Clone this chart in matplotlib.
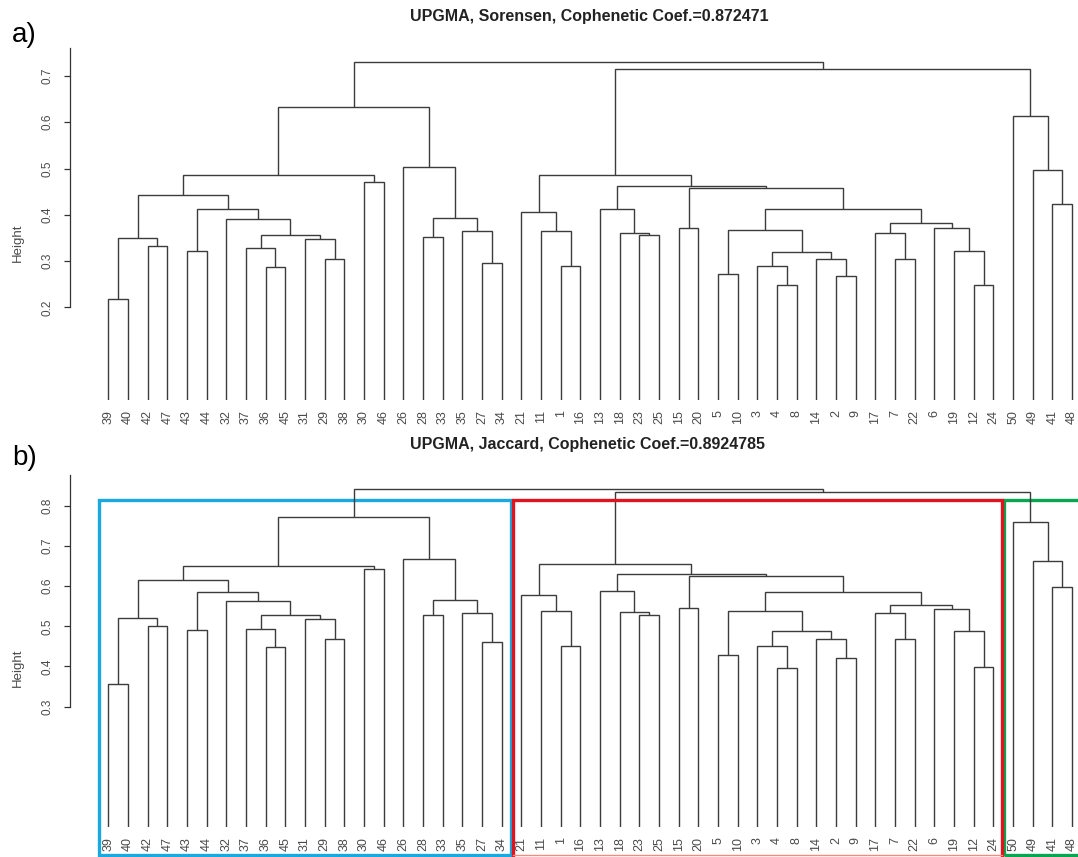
import matplotlib
matplotlib.use("Agg")
import matplotlib.pyplot as plt
from matplotlib.patches import Rectangle

plt.rcParams['font.family'] = ['Liberation Sans', 'DejaVu Sans']

leaf_order = [39, 40, 42, 47, 43, 44, 32, 37, 36, 45, 31, 29, 38, 30, 46, 26, 28, 33, 35, 27, 34,
              21, 11, 1, 16, 13, 18, 23, 25, 15, 20, 5, 10, 3, 4, 8, 14, 2, 9, 17, 7, 22, 6, 19, 12, 24,
              50, 49, 41, 48]

# hclust style merge table: negative = leaf id, positive = earlier merge step (1-based)
merge_pairs = [
    (-39, -40), (-42, -47), (1, 2), (-43, -44), (-36, -45), (-37, 5), (-29, -38), (-31, 7),
    (6, 8), (-32, 9), (4, 10), (3, 11), (-30, -46), (12, 13), (-28, -33), (-27, -34),
    (-35, 16), (15, 17), (-26, 18), (14, 19), (-1, -16), (-11, 21), (-21, 22), (-23, -25),
    (-18, 24), (-13, 25), (-15, -20), (-5, -10), (-4, -8), (-3, 29), (-2, -9), (-14, 31),
    (30, 32), (28, 33), (-7, -22), (-17, 35), (-12, -24), (-19, 37), (-6, 38), (36, 39),
    (34, 40), (27, 41), (26, 42), (23, 43), (-41, -48), (-49, 45), (-50, 46), (44, 47),
    (20, 48),
]

height_sorensen = [
    0.218, 0.333, 0.350, 0.322, 0.288, 0.328, 0.304, 0.348, 0.356, 0.390, 0.413, 0.442,
    0.470, 0.486, 0.353, 0.296, 0.364, 0.392, 0.504, 0.632, 0.290, 0.364, 0.405, 0.356,
    0.361, 0.413, 0.371, 0.271, 0.248, 0.290, 0.268, 0.304, 0.320, 0.367, 0.304, 0.361,
    0.248, 0.321, 0.371, 0.382, 0.412, 0.457, 0.462, 0.486, 0.423, 0.496, 0.613, 0.714,
    0.730,
]

height_jaccard = [
    0.356, 0.501, 0.520, 0.491, 0.449, 0.494, 0.468, 0.518, 0.527, 0.564, 0.586, 0.615,
    0.642, 0.651, 0.527, 0.461, 0.534, 0.566, 0.669, 0.772, 0.452, 0.537, 0.579, 0.527,
    0.535, 0.588, 0.545, 0.428, 0.396, 0.452, 0.422, 0.468, 0.489, 0.537, 0.468, 0.534,
    0.398, 0.488, 0.543, 0.553, 0.585, 0.625, 0.630, 0.655, 0.597, 0.664, 0.759, 0.835,
    0.842,
]

# groups boxed in panel b: first leaf, last leaf, colour
groups_b = [(39, 34, '#1aa9df'), (21, 24, '#e0141e'), (50, 48, '#0aa550')]

W, H = 1078, 857
LINE = '#3c3c3c'
TXT = '#4a4a4a'


def px_axes(left, top, right, bottom):
    return [left / W, 1 - bottom / H, (right - left) / W, (bottom - top) / H]


def draw_dendro(ax, heights):
    pos = {leaf: i for i, leaf in enumerate(leaf_order)}
    node_x, node_h = {}, {}

    def get(c):
        if c < 0:
            return pos[-c], 0.0
        return node_x[c], node_h[c]

    for k, ((a, b), h) in enumerate(zip(merge_pairs, heights), start=1):
        xa, ha = get(a)
        xb, hb = get(b)
        ax.plot([xa, xa, xb, xb], [ha, h, h, hb], color=LINE, lw=1.0,
                solid_capstyle='butt', solid_joinstyle='miter')
        node_x[k] = (xa + xb) / 2
        node_h[k] = h


def style_axes(ax, ymax, ticks, ylab_y):
    x0 = (69.6 - 108.3) / 19.67
    x1 = (W - 108.3) / 19.67
    ax.set_xlim(x0, x1)
    ax.set_ylim(0, ymax)
    for s in ['top', 'right', 'bottom']:
        ax.spines[s].set_visible(False)
    ax.spines['left'].set_bounds(ticks[0], ymax)
    ax.spines['left'].set_color('#333333')
    ax.spines['left'].set_linewidth(0.9)
    ax.set_yticks(ticks)
    ax.set_yticklabels([f'{t:.1f}' for t in ticks], rotation=90, va='center')
    ax.tick_params(axis='y', length=4.5, width=0.9, pad=7, labelsize=8.5,
                   labelcolor=TXT, color='#333333')
    ax.set_xticks(range(len(leaf_order)))
    ax.set_xticklabels([str(v) for v in leaf_order], rotation=90, va='top', ha='center')
    ax.tick_params(axis='x', length=0, pad=7.5, labelsize=9, labelcolor=TXT)
    ax.set_ylabel('Height', fontsize=9.5, color=TXT)
    ax.yaxis.set_label_coords((23.5 - 69.6) / (W - 69.6), ylab_y)
    ax.patch.set_alpha(0)


fig = plt.figure(figsize=(W / 100, H / 100), dpi=100)

ax_a = fig.add_axes(px_axes(69.6, 48.2, W, 399.9))
draw_dendro(ax_a, height_sorensen)
style_axes(ax_a, 0.76, [0.2, 0.3, 0.4, 0.5, 0.6, 0.7], 0.4475)

ax_b = fig.add_axes(px_axes(69.6, 475.1, W, 826.9))
draw_dendro(ax_b, height_jaccard)
style_axes(ax_b, 0.877, [0.3, 0.4, 0.5, 0.6, 0.7, 0.8], 0.451)

# coloured group boxes on panel b
box_top, box_bottom = 0.814, -0.070
for first, last, col in groups_b:
    i0 = leaf_order.index(first) - 0.45
    i1 = leaf_order.index(last) + 0.45
    if col == '#0aa550':
        i1 = len(leaf_order) + 1
    if col == '#e0141e':
        ax_b.plot([i0, i0, i1, i1], [box_bottom, box_top, box_top, box_bottom],
                  color=col, lw=2.4, clip_on=False, solid_joinstyle='miter')
        ax_b.plot([i0, i1], [box_bottom, box_bottom], color='#f28a80', lw=1.0, clip_on=False)
    else:
        ax_b.add_patch(Rectangle((i0, box_bottom), i1 - i0, box_top - box_bottom, fill=False,
                                 edgecolor=col, lw=2.4, clip_on=False, joinstyle='miter'))

fig.text(589 / W, 1 - 16.7 / H, 'UPGMA, Sorensen, Cophenetic Coef.=0.872471',
         ha='center', va='center', fontsize=11.5, fontweight='bold', color='#222222')
fig.text(588 / W, 1 - 444 / H, 'UPGMA, Jaccard, Cophenetic Coef.=0.8924785',
         ha='center', va='center', fontsize=11.5, fontweight='bold', color='#222222')
fig.text(12 / W, 1 - 35 / H, 'a)', ha='left', va='center', fontsize=20)
fig.text(12 / W, 1 - 458 / H, 'b)', ha='left', va='center', fontsize=20)

fig.savefig('out.png', dpi=100)
